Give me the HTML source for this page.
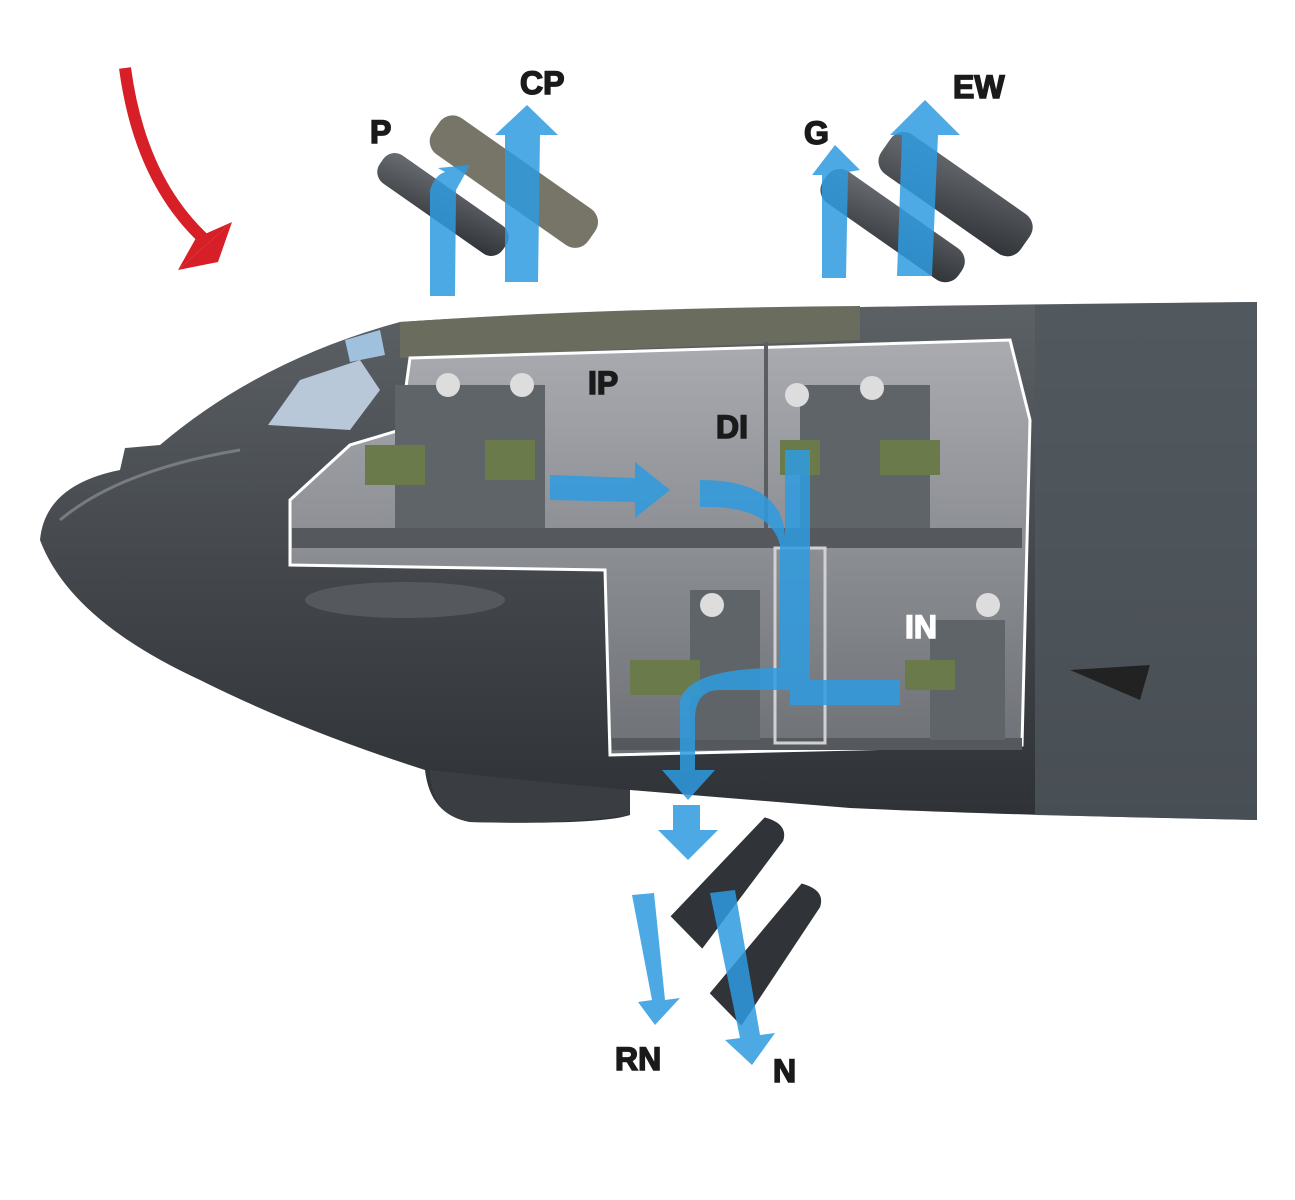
<!DOCTYPE html>
<html><head><meta charset="utf-8"><style>
html,body{margin:0;padding:0;background:#fff;}
svg{display:block;}
text{font-family:"Liberation Sans",sans-serif;font-weight:bold;fill:#1a1a1a;stroke:#1a1a1a;stroke-width:1.5;}
</style></head><body>
<svg width="1295" height="1200" viewBox="0 0 1295 1200" xmlns="http://www.w3.org/2000/svg">
<defs>
<linearGradient id="fus" x1="0" y1="0" x2="0" y2="1">
<stop offset="0" stop-color="#5c6166"/><stop offset="0.5" stop-color="#44484d"/><stop offset="1" stop-color="#2e3135"/>
</linearGradient>
<linearGradient id="cab" x1="0" y1="0" x2="0" y2="1">
<stop offset="0" stop-color="#a9abb0"/><stop offset="1" stop-color="#6e7176"/>
</linearGradient>
<linearGradient id="hatch" x1="0" y1="0" x2="1" y2="1">
<stop offset="0" stop-color="#6b6f73"/><stop offset="1" stop-color="#2f3236"/>
</linearGradient>
</defs>
<path d="M125 68 Q140 180 205 240" fill="none" stroke="#d61f26" stroke-width="12"/>
<polygon points="178,270 232,222 218,262" fill="#d61f26"/>
<polygon points="178,270 232,222 196,238" fill="#d61f26"/>
<path d="M40 540 Q45 485 120 470 L125 448 L160 445 Q260 360 400 322 Q600 308 1257 302 L1257 820 Q1000 815 850 808 L630 790 L630 815 Q600 825 470 822 Q430 815 425 770 Q300 730 200 680 Q70 620 40 540 Z" fill="url(#fus)"/>
<path d="M1035 305 L1257 302 L1257 820 L1035 815 Z" fill="#4f565c" opacity="0.8"/>
<path d="M400 322 Q600 308 860 306 L860 340 L400 358 Z" fill="#6a6c5e"/>
<path d="M60 520 Q120 470 240 450" fill="none" stroke="#777c80" stroke-width="3"/>
<ellipse cx="405" cy="600" rx="100" ry="18" fill="#55595e"/>
<path d="M430 770 Q520 780 630 790 L630 815 Q560 825 470 822 Q430 815 430 770Z" fill="#3a3d41"/>
<path d="M1070 670 L1150 665 L1140 700 Z" fill="#222"/>
<polygon points="268,425 300,380 360,360 380,390 350,430" fill="#b8c8d8"/>
<polygon points="345,340 380,330 385,355 350,362" fill="#9fc1dd"/>
<path d="M410 358 L1010 340 L1030 420 L1022 745 L610 755 L605 570 L290 565 L290 500 L350 445 L400 430 Z" fill="url(#cab)" stroke="#fff" stroke-width="3"/>
<rect x="292" y="528" width="730" height="20" fill="#55585c"/>
<rect x="612" y="738" width="410" height="12" fill="#55585c"/>
<line x1="766" y1="342" x2="766" y2="528" stroke="#5a5d61" stroke-width="4"/>
<rect x="775" y="548" width="50" height="195" fill="none" stroke="#cfd1d4" stroke-width="3"/>
<g fill="#5f6469">
<rect x="395" y="385" width="75" height="143"/><rect x="470" y="385" width="75" height="143"/>
<rect x="800" y="385" width="60" height="143"/><rect x="860" y="385" width="70" height="143"/>
<rect x="690" y="590" width="70" height="150"/><rect x="930" y="620" width="75" height="120"/>
</g>
<g fill="#6b7a4a">
<rect x="365" y="445" width="60" height="40"/><rect x="485" y="440" width="50" height="40"/>
<rect x="880" y="440" width="60" height="35"/><rect x="780" y="440" width="40" height="35"/>
<rect x="630" y="660" width="70" height="35"/><rect x="905" y="660" width="50" height="30"/>
</g>
<g fill="#ddd"><circle cx="448" cy="385" r="12"/><circle cx="522" cy="385" r="12"/><circle cx="797" cy="395" r="12"/><circle cx="872" cy="388" r="12"/><circle cx="712" cy="605" r="12"/><circle cx="988" cy="605" r="12"/></g>
<g transform="rotate(35 440 200)"><rect x="370" y="185" width="150" height="34" rx="14" fill="url(#hatch)"/></g>
<g transform="rotate(35 515 180)"><rect x="420" y="160" width="190" height="44" rx="16" fill="#767567"/></g>
<g transform="rotate(35 890 225)"><rect x="810" y="205" width="165" height="38" rx="16" fill="url(#hatch)"/></g>
<g transform="rotate(35 955 195)"><rect x="870" y="170" width="170" height="48" rx="16" fill="url(#hatch)"/></g>
<g transform="rotate(-38 735 885)"><path d="M665 870 L800 850 Q815 870 800 880 L670 915 Z" fill="#303338"/></g>
<g transform="rotate(-38 775 955)"><path d="M700 945 L840 915 Q855 935 840 945 L705 990 Z" fill="#303338"/></g>
<g fill="#2e9be0" opacity="0.85">
<path d="M430 296 L430 190 Q435 175 445 172 L438 168 L470 165 L456 190 L455 296 Z"/>
<path d="M505 282 L505 135 L495 135 L527 105 L558 135 L540 135 L538 282 Z"/>
<path d="M822 278 L822 175 L812 175 L835 145 L860 170 L848 172 L846 278 Z"/>
<path d="M897 276 L902 135 L890 135 L925 100 L960 135 L938 135 L932 276 Z"/>
<path d="M550 475 L635 478 L635 462 L670 490 L635 518 L635 502 L550 500 Z"/>
<path d="M700 480 Q785 480 785 540 L785 450 L810 450 L810 680 L900 680 L900 705 L790 705 L790 690 L720 690 Q695 690 695 720 L695 770 L715 770 L688 800 L662 770 L680 770 L680 700 Q690 668 780 668 L780 545 Q770 505 700 507 Z"/>
<path d="M673 805 L700 805 L700 830 L718 830 L688 860 L658 830 L673 830 Z"/>
<path d="M632 895 L654 893 L665 1000 L680 998 L655 1025 L638 1002 L652 1000 Z"/>
<path d="M710 893 L735 890 L760 1035 L775 1033 L752 1065 L725 1040 L740 1038 Z"/>
</g>
<text x="370" y="143" font-size="32">P</text>
<text x="520" y="94" font-size="32">CP</text>
<text x="804" y="144" font-size="32">G</text>
<text x="953" y="98" font-size="32">EW</text>
<text x="588" y="394" font-size="32">IP</text>
<text x="716" y="438" font-size="32">DI</text>
<text x="905" y="638" font-size="32" style="fill:#fff;stroke:#fff">IN</text>
<text x="615" y="1070" font-size="32">RN</text>
<text x="773" y="1082" font-size="32">N</text>
</svg>
</body></html>
